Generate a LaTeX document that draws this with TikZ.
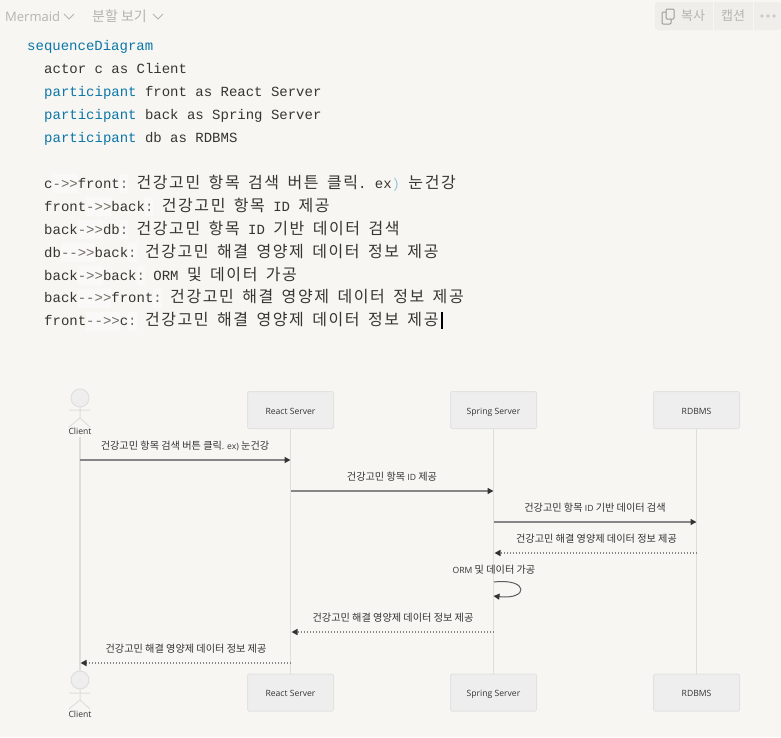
\documentclass[tikz,border=0pt]{standalone}
\usepackage{fontspec}
\usetikzlibrary{arrows.meta}
\setmainfont{Open Sans}
\setmonofont{Liberation Mono}
\newfontfamily\krcode[LetterSpace=10]{Noto Sans CJK KR}
\newfontfamily\krui{Noto Sans CJK KR}
\definecolor{bgc}{HTML}{F7F6F3}
\definecolor{hl}{HTML}{FAF9F7}
\definecolor{kw}{HTML}{0B76A8}
\definecolor{txt}{HTML}{37352F}
\definecolor{tok}{HTML}{6E6B63}
\definecolor{ui}{HTML}{B5B4B0}
\definecolor{ln}{HTML}{DEDEDC}
\definecolor{boxf}{HTML}{EEEEEE}
\definecolor{boxd}{HTML}{E2E2E0}
\definecolor{msg}{HTML}{868686}
\definecolor{headc}{HTML}{333333}
\definecolor{btn}{HTML}{EFEEEB}
\newcommand\KR[1]{{\krcode\fontsize{16}{16}\selectfont #1}}
\newcommand\HL[1]{{\setlength{\fboxsep}{0pt}\colorbox{hl}{\rule[-5pt]{0pt}{19pt}#1}}}
\newcommand\TK[1]{\HL{\textcolor{tok}{#1}}}
\newcommand\LK[1]{{\krui\fontsize{10.15}{10.15}\selectfont #1}}
\newcommand\BX[1]{\raisebox{-4.2pt}[3pt][3pt]{#1}}
\tikzset{
  x=1pt,y=-1pt,
  codeline/.style={anchor=base west,inner sep=0pt,text=txt,font=\ttfamily\fontsize{14}{14}\selectfont},
  uitext/.style={inner sep=0pt,text=ui,font=\fontsize{13}{13}\selectfont},
  uikr/.style={inner sep=0pt,text=ui,font=\krui\fontsize{14}{14}\selectfont},
  seqbox/.style={draw=boxd,fill=boxf,line width=1pt,rounded corners=1.5pt,minimum width=86pt,minimum height=37pt,inner sep=0pt,text=headc,font=\fontsize{8.6}{9}\selectfont},
  actorname/.style={inner sep=0pt,text=headc,font=\fontsize{8.6}{9}\selectfont},
  lbl/.style={inner sep=0pt,text=headc,font=\fontsize{8.6}{9}\selectfont},
  lifeline/.style={draw=ln,line width=1.8pt},
  figure/.style={draw=ln,line width=1pt},
  sync/.style={draw=msg,line width=1.7pt,-{Triangle[length=6pt,width=6pt,color=headc]}},
  reply/.style={draw=msg,line width=1.7pt,dash pattern=on 1.5pt off 1.5pt,-{Triangle[length=6pt,width=6pt,color=headc]}},
  loopmsg/.style={draw=headc!80,line width=1pt,-{Triangle[length=6pt,width=6pt,color=headc]}},
  caret/.style={draw=black,line width=1.4pt},
  chev/.style={draw=ui,line width=.9pt},
}
\begin{document}
\begin{tikzpicture}
\useasboundingbox (0,0) rectangle (781,737);
\fill[bgc] (0,0) rectangle (781,737);

% top bar
\node[uitext,anchor=west] (mode) at (5,17) {Mermaid};
\coordinate (cha) at (64,14); \coordinate (chb) at (69,19); \coordinate (chc) at (74,14);
\draw[chev] (cha) -- (chb) -- (chc);
\node[uikr,anchor=west] (split) at (92,16) {분할 보기};
\coordinate (cda) at (153,14); \coordinate (cdb) at (158,19); \coordinate (cdc) at (163,14);
\draw[chev] (cda) -- (cdb) -- (cdc);
\fill[btn,rounded corners=3pt] (655,2) rectangle (781,30);
\fill[bgc] (713,2) rectangle (714,30);
\fill[bgc] (753,2) rectangle (754,30);
\draw[draw=ui!85!black,line width=1pt,rounded corners=1pt] (662,12) rectangle (671,24);
\draw[draw=ui!85!black,fill=btn,line width=1pt,rounded corners=1pt] (666,9) rectangle (674,19);
\node[uikr,anchor=west,font=\krui\fontsize{13}{13}\selectfont] (copy) at (681,15.5) {복사};
\node[uikr,anchor=west,font=\krui\fontsize{13}{13}\selectfont] (cap) at (721,15.5) {캡션};
\fill[ui!70] (762,16) circle (1.8) (768,16) circle (1.8) (774,16) circle (1.8);

% source
\node[codeline] (l1) at (27,50) {\textcolor{kw}{sequenceDiagram}};
\node[codeline] (l2) at (44,73) {actor c as Client};
\node[codeline] (l3) at (44,96) {\textcolor{kw}{participant} front as React Server};
\node[codeline] (l4) at (44,119) {\textcolor{kw}{participant} back as Spring Server};
\node[codeline] (l5) at (44,142) {\textcolor{kw}{participant} db as RDBMS};
\node[codeline] (l6) at (44,188) {c\TK{->>}front\TK{:} \KR{건강고민} \KR{항목} \KR{검색} \KR{버튼} \KR{클릭}. ex\textcolor{kw!40}{)} \KR{눈건강}};
\node[codeline] (l7) at (44,211) {front\TK{->>}back\TK{:} \KR{건강고민} \KR{항목} ID \KR{제공}};
\node[codeline] (l8) at (44,234) {back\TK{->>}db\TK{:} \KR{건강고민} \KR{항목} ID \KR{기반} \KR{데이터} \KR{검색}};
\node[codeline] (l9) at (44,257) {db\TK{-{}->>}back\TK{:} \KR{건강고민} \KR{해결} \KR{영양제} \KR{데이터} \KR{정보} \KR{제공}};
\node[codeline] (l10) at (44,280) {back\TK{->>}back\TK{:} ORM \KR{및} \KR{데이터} \KR{가공}};
\node[codeline] (l11) at (44,302.5) {back\TK{-{}->>}front\TK{:} \KR{건강고민} \KR{해결} \KR{영양제} \KR{데이터} \KR{정보} \KR{제공}};
\node[codeline] (l12) at (44,325.5) {front\TK{-{}->>}c\TK{:} \KR{건강고민} \KR{해결} \KR{영양제} \KR{데이터} \KR{정보} \KR{제공}};
\coordinate (cara) at (442,312); \coordinate (carb) at (442,329);
\draw[caret] (cara) -- (carb);

% participants
\node[seqbox] (ftop) at (290.5,410) {\BX{React Server}};
\node[seqbox] (btop) at (493.5,410) {\BX{Spring Server}};
\node[seqbox] (dtop) at (696.5,410) {\BX{RDBMS}};
\node[seqbox] (fbot) at (290.5,692.5) {\BX{React Server}};
\node[seqbox] (bbot) at (493.5,692.5) {\BX{Spring Server}};
\node[seqbox] (dbot) at (696.5,692.5) {\BX{RDBMS}};
\node[actorname] (ctop) at (80,431) {Client};
\node[actorname] (cbot) at (80,714) {Client};

% lifelines
\draw[lifeline] (ctop.south) ++(0,2) -- (80,672);
\draw[lifeline] (ftop.south) -- (fbot.north);
\draw[lifeline] (btop.south) -- (bbot.north);
\draw[lifeline] (dtop.south) -- (dbot.north);

% actors
\draw[figure,fill=boxf] (80,398) circle (9);
\draw[figure] (80,407) -- (80,418) (69,410) -- (90,410) (80,418) -- (69,427) (80,418) -- (90,427);
\draw[figure,fill=boxf] (80,680) circle (9);
\draw[figure] (80,689) -- (80,700) (69,693) -- (90,693) (80,700) -- (69,709) (80,700) -- (90,709);

% message ends
\coordinate (m1a) at (80,460);  \coordinate (m1b) at (290.5,460);
\coordinate (m2a) at (291,491); \coordinate (m2b) at (493.5,491);
\coordinate (m3a) at (494,522); \coordinate (m3b) at (696.5,522);
\coordinate (m4a) at (697,553); \coordinate (m4b) at (494.5,553);
\coordinate (m5a) at (494,582); \coordinate (m5b) at (493.5,596);
\coordinate (m6a) at (494,632); \coordinate (m6b) at (291.5,632);
\coordinate (m7a) at (291,663); \coordinate (m7b) at (80.5,663);

\draw[sync] (m1a) -- (m1b);
\draw[sync] (m2a) -- (m2b);
\draw[sync] (m3a) -- (m3b);
\draw[reply] (m4a) -- (m4b);
\draw[loopmsg] (m5a) .. controls (529,578) and (529,600) .. (m5b);
\draw[reply] (m6a) -- (m6b);
\draw[reply] (m7a) -- (m7b);

% message labels
\node[lbl] (t1) at (185,445.5) {\LK{건강고민 항목 검색 버튼 클릭}. ex) \LK{눈건강}};
\node[lbl] (t2) at (392,477) {\LK{건강고민 항목} ID \LK{제공}};
\node[lbl] (t3) at (595,508) {\LK{건강고민 항목} ID \LK{기반 데이터 검색}};
\node[lbl] (t4) at (596.5,538.5) {\LK{건강고민 해결 영양제 데이터 정보 제공}};
\node[lbl] (t5) at (494,569.5) {ORM \LK{및 데이터 가공}};
\node[lbl] (t6) at (393,618) {\LK{건강고민 해결 영양제 데이터 정보 제공}};
\node[lbl] (t7) at (186,648.5) {\LK{건강고민 해결 영양제 데이터 정보 제공}};
\end{tikzpicture}
\end{document}
